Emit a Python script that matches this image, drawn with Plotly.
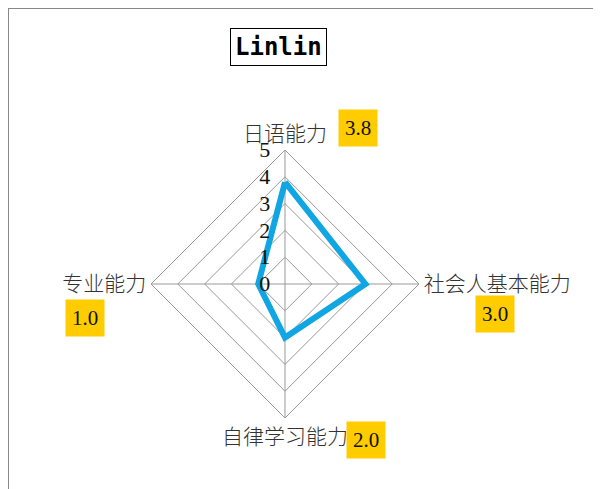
import plotly.graph_objects as go

categories = ["日语能力", "社会人基本能力", "自律学习能力", "专业能力"]
values = [3.8, 3.0, 2.0, 1.0]
radial_ticks = [0, 1, 2, 3, 4, 5]
title_text = "Linlin"

r_closed = values + values[:1]
theta_closed = categories + categories[:1]

W, H = 601, 489
OFF = 8  # page body margin

def px(x): return (x - OFF) / W
def py(y): return 1 - (y - OFF) / H

fig = go.Figure()
fig.add_trace(go.Scatterpolar(
    r=r_closed, theta=theta_closed, mode="lines",
    line=dict(color="#10a5e3", width=6), showlegend=False, hoverinfo="skip",
))

cx, cy, R = 285, 284, 134
dom_x = [px(cx - R), px(cx + R)]
dom_y = [py(cy + R), py(cy - R)]

fig.update_layout(
    width=W, height=H,
    margin=dict(l=0, r=0, t=0, b=0),
    paper_bgcolor="white", plot_bgcolor="white",
    polar=dict(
        domain=dict(x=dom_x, y=dom_y),
        bgcolor="white",
        gridshape="linear",
        angularaxis=dict(
            categoryarray=categories, categoryorder="array",
            rotation=90, direction="clockwise",
            showline=True, linecolor="#999999", linewidth=1,
            gridcolor="#999999", gridwidth=1,
            ticks="", tickfont=dict(family="Noto Sans CJK SC", size=21, color="#333333", weight=300),
        ),
        radialaxis=dict(
            range=[0, 5], tickvals=radial_ticks,
            ticktext=[f"{t}\u00a0\u00a0" for t in radial_ticks],
            angle=90, tickangle=90, side="counterclockwise", showline=False,
            gridcolor="#999999", gridwidth=1, ticks="",
            tickfont=dict(family="Liberation Serif", size=22, color="#111111"),
        ),
    ),
)

ann = []
value_pos = [(358, 128), (495, 314), (366, 440), (85, 318)]
for v, (x, y) in zip(values, value_pos):
    ann.append(dict(
        x=px(x), y=py(y), xref="paper", yref="paper", showarrow=False,
        xanchor="center", yanchor="middle",
        text=f"{v:.1f}", bgcolor="#ffcc00", borderpad=6,
        font=dict(family="Liberation Serif", size=21, color="#111111"),
    ))
ann.append(dict(
    x=px(278), y=py(47), xref="paper", yref="paper", showarrow=False,
    xanchor="center", yanchor="middle",
    text=title_text, bordercolor="black", borderwidth=1, borderpad=4,
    font=dict(family="DejaVu Sans Mono", size=24, color="black", weight="bold"),
))
fig.update_layout(annotations=ann)

fig.update_layout(shapes=[
    dict(type="line", xref="paper", yref="paper", x0=0, x1=0, y0=1, y1=0,
         line=dict(color="#888888", width=2)),
    dict(type="line", xref="paper", yref="paper", x0=0, x1=1, y0=1, y1=1,
         line=dict(color="#888888", width=2)),
])

fig.write_html("out.html")
